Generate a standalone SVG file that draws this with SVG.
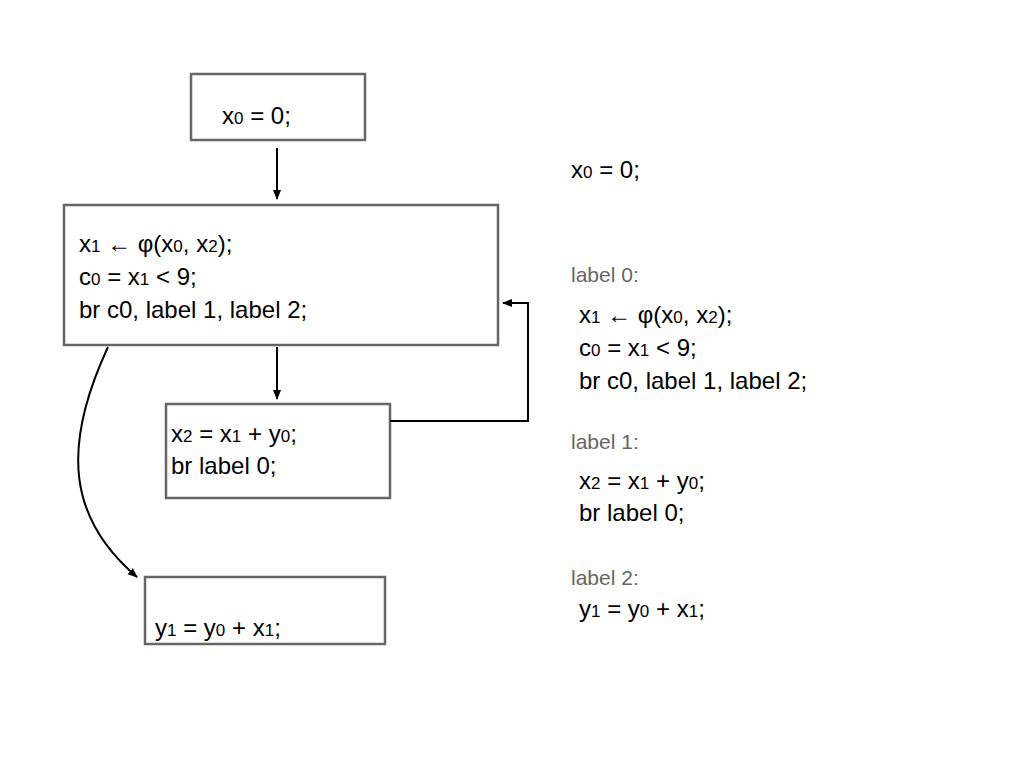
<svg xmlns="http://www.w3.org/2000/svg" width="1024" height="768" viewBox="0 0 1024 768">
<style>
text{font-family:"Liberation Sans",Arial,sans-serif;font-size:24px;fill:#000}
.s{font-size:17px}
.g{fill:#666;font-size:21px}
.b{fill:#fff;stroke:#666;stroke-width:2.5}
.c{fill:none;stroke:#000;stroke-width:2}
</style>
<defs><marker id="a" markerWidth="10" markerHeight="10" refX="9" refY="5" orient="auto" markerUnits="userSpaceOnUse"><path d="M0,1 L10,5 L0,9 z" fill="#000"/></marker></defs>
<rect width="1024" height="768" fill="#fff"/>
<g id="n1"><rect class="b" x="191" y="74" width="174" height="66"/><text x="222" y="124">x<tspan class="s">0</tspan> = 0;</text></g>
<g id="n2"><rect class="b" x="64" y="205" width="434" height="140"/>
<text x="79" y="252">x<tspan class="s">1</tspan> ← φ(x<tspan class="s">0</tspan>, x<tspan class="s">2</tspan>);</text>
<text x="79" y="285">c<tspan class="s">0</tspan> = x<tspan class="s">1</tspan> &lt; 9;</text>
<text x="79" y="318">br c0, label 1, label 2;</text></g>
<g id="n3"><rect class="b" x="166" y="404" width="224" height="94"/>
<text x="171" y="442">x<tspan class="s">2</tspan> = x<tspan class="s">1</tspan> + y<tspan class="s">0</tspan>;</text>
<text x="171" y="474">br label 0;</text></g>
<g id="n4"><rect class="b" x="145" y="577" width="240" height="67"/>
<text x="155" y="636">y<tspan class="s">1</tspan> = y<tspan class="s">0</tspan> + x<tspan class="s">1</tspan>;</text></g>
<g id="connectors">
<path class="c" d="M277,148 L277,199" marker-end="url(#a)"/>
<path class="c" d="M277,347 L277,399" marker-end="url(#a)"/>
<path class="c" d="M390,421 L528,421 L528,303 L503,303" marker-end="url(#a)"/>
<path class="c" d="M108,347 C60,450 70,520 137,577" marker-end="url(#a)"/>
</g>
<g id="listing">
<text x="571" y="178">x<tspan class="s">0</tspan> = 0;</text>
<text class="g" x="571" y="282">label 0:</text>
<text x="579" y="323">x<tspan class="s">1</tspan> ← φ(x<tspan class="s">0</tspan>, x<tspan class="s">2</tspan>);</text>
<text x="579" y="356">c<tspan class="s">0</tspan> = x<tspan class="s">1</tspan> &lt; 9;</text>
<text x="579" y="389">br c0, label 1, label 2;</text>
<text class="g" x="571" y="449">label 1:</text>
<text x="579" y="489">x<tspan class="s">2</tspan> = x<tspan class="s">1</tspan> + y<tspan class="s">0</tspan>;</text>
<text x="579" y="521">br label 0;</text>
<text class="g" x="571" y="585">label 2:</text>
<text x="579" y="617">y<tspan class="s">1</tspan> = y<tspan class="s">0</tspan> + x<tspan class="s">1</tspan>;</text>
</g>
</svg>
